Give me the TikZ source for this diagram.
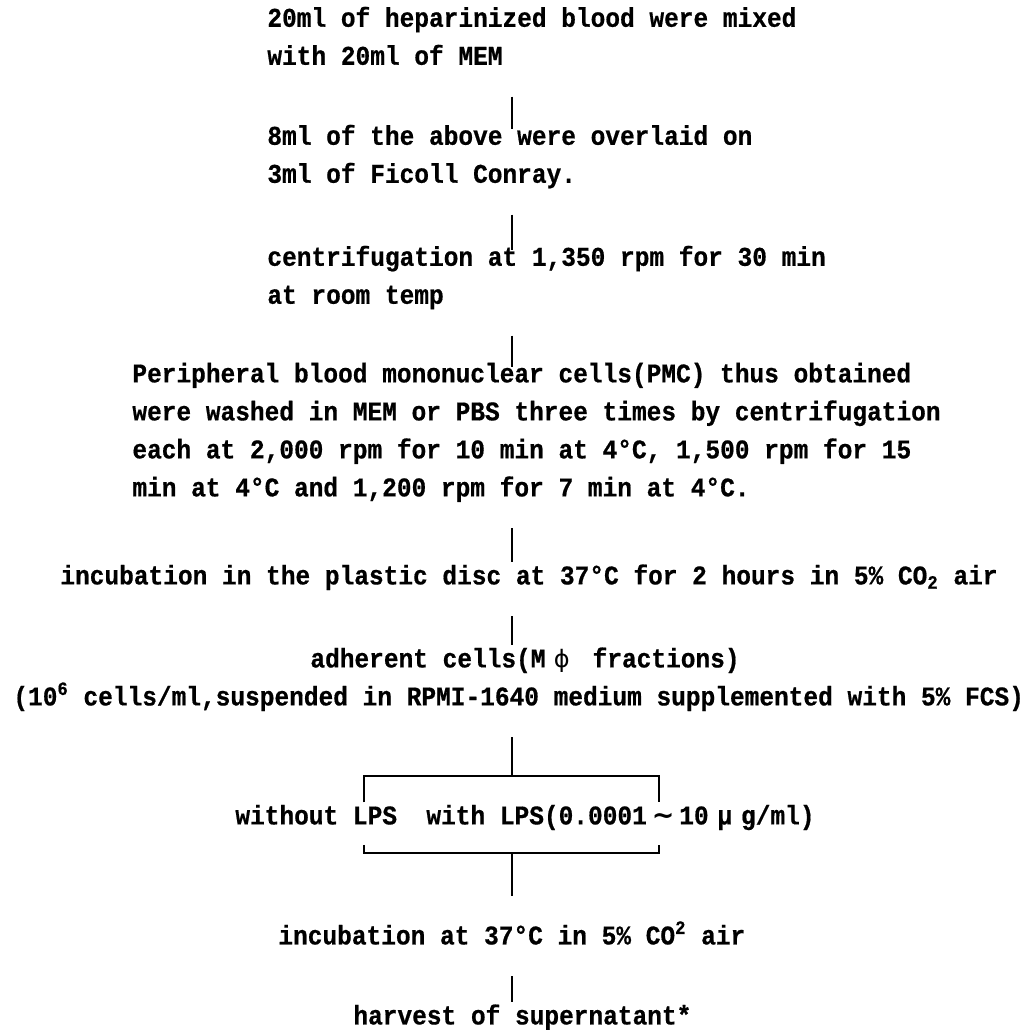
\documentclass[tikz,border=0pt]{standalone}
\usepackage{fontspec}
\newfontfamily\flowfont{Liberation Mono Bold}[FakeBold=0.6, FakeStretch=0.907]
\newfontfamily\symfont{DejaVu Sans}
\usepackage{tikz}
\usetikzlibrary{calc,positioning}
\newcommand{\fullw}[1]{\makebox[1.2em]{#1}}
\tikzset{
    stage/.style={anchor=north west, align=left, inner sep=0pt,
        font=\flowfont\fontsize{13.5}{19}\selectfont,
        execute at begin node=\strut, execute at end node=\strut},
    link/.style={draw, line width=1.4pt, shorten <=10pt, shorten >=-2.5pt},
    fork/.style={draw, line width=1.4pt}
}

\begin{document}
\begin{tikzpicture}[x=0.5pt, y=-0.5pt]
    \path[use as bounding box, fill=white] (0,0) rectangle (1032,1029);

    % Nodes
    \node[stage] (A) at (267,6.4) {20ml of heparinized blood were mixed\\with 20ml of MEM};
    \node[stage] (B) at (267,124.4) {8ml of the above were overlaid on\\3ml of Ficoll Conray.};
    \node[stage] (C) at (267,245.4) {centrifugation at 1,350 rpm for 30 min\\at room temp};
    \node[stage] (D) at (132,362.4) {Peripheral blood mononuclear cells(PMC) thus obtained\\were washed in MEM or PBS three times by centrifugation\\each at 2,000 rpm for 10 min at 4°C, 1,500 rpm for 15\\min at 4°C and 1,200 rpm for 7 min at 4°C.};
    \node[stage] (E) at (60,557.4) {incubation in the plastic disc at 37°C for 2 hours in 5\% CO\textsubscript{2} air};
    \node[stage] (F1) at (310,640.4) {adherent cells(M\fullw{\symfont\fontsize{12}{19}\selectfont ϕ} fractions)};
    \node[stage] (F2) at (13,678.4) {(10\textsuperscript{6} cells/ml,suspended in RPMI-1640 medium supplemented with 5\% FCS)};
    \node[stage] (G) at (235,797.4) {without LPS\ \ with LPS(0.0001\fullw{\symfont\bfseries ∼}10\fullw{μ}g/ml)};
    \node[stage] (H) at (278,917.4) {incubation at 37°C in 5\% CO\textsuperscript{2} air};
    \node[stage] (I) at (353,997.4) {harvest of supernatant*};

    \coordinate (tick) at (512,0);
    \coordinate (fork) at (512,776);
    \coordinate (forkL) at (364,776);
    \coordinate (forkR) at (659,776);
    \coordinate (join) at (512,853);
    \coordinate (joinL) at (364,853);
    \coordinate (joinR) at (659,853);

    % edges
    \draw[link] (A.south -| tick) -- (B.north -| tick);
    \draw[link] (B.south -| tick) -- (C.north -| tick);
    \draw[link] (C.south -| tick) -- (D.north -| tick);
    \draw[link] (D.south -| tick) -- (E.north -| tick);
    \draw[link] (E.south -| tick) -- (F1.north -| tick);
    \draw[fork, shorten <=10pt] (F2.south -| fork) -- (fork);
    \draw[fork, shorten <=-2.5pt, shorten >=-2.5pt] (forkL |- G.north) -- (forkL) -- (forkR) -- (forkR |- G.north);
    \draw[fork, shorten <=4.3pt, shorten >=4.3pt] (joinL |- G.south) -- (joinL) -- (joinR) -- (joinR |- G.south);
    \draw[fork, shorten >=10.7pt] (join) -- (H.north -| join);
    \draw[link] (H.south -| tick) -- (I.north -| tick);
\end{tikzpicture}
\end{document}
